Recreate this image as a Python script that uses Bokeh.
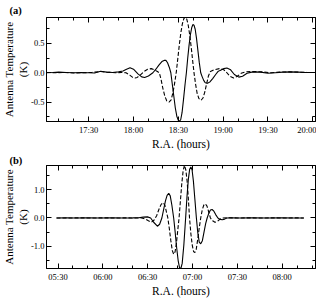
from bokeh.plotting import figure
from bokeh.models import (Range1d, FixedTicker, PrintfTickFormatter, LinearAxis, Title,
                          CustomJSTickFormatter)
from bokeh.layouts import column
from bokeh.embed import file_html
from bokeh.resources import INLINE

# ---------------- Panel (a): minutes after 17:00 ----------------
a_tick_labels = ["17:30", "18:00", "18:30", "19:00", "19:30", "20:00"]
a_x_range = ["17:01.8", "20:01.8"]
a_y_range = [-0.83, 0.94]
a_y_ticks = [-0.5, 0.0, 0.5]
a_y_minor = [-0.75, -0.5, -0.25, 0.0, 0.25, 0.5, 0.75]

a_solid_t = [1.8, 6, 10, 15, 20, 25, 30, 34, 38, 42, 46, 50, 53, 55, 57.7, 60, 63, 65.5,
             67.5, 70, 73, 75, 77, 79, 80.5, 81.7, 82.8, 84, 85, 86, 87, 88, 89, 90, 90.8,
             91.6, 92.5, 93.5, 94.5, 95.4, 96.3, 97.2, 98.1, 99, 99.8, 100.5, 101.3, 102.2,
             103.1, 104, 105, 106, 107, 108, 109.5, 111, 113, 115, 116.5, 118, 120.5, 122.5,
             125, 127.5, 130.5, 133, 136, 140, 145, 150, 155, 160, 165, 170, 175, 180, 181.8]
a_solid_v = [0.0, 0.005, 0.01, 0.005, 0.0, 0.005, 0.0, -0.005, 0.025, 0.01, 0.005, 0.015,
             0.03, 0.055, 0.085, 0.06, -0.02, -0.07, -0.08, -0.055, 0.0, 0.06, 0.13, 0.19,
             0.21, 0.21, 0.17, 0.09, 0.0, -0.2, -0.4, -0.6, -0.74, -0.81, -0.825, -0.8,
             -0.68, -0.45, -0.2, 0.0, 0.25, 0.47, 0.65, 0.77, 0.82, 0.81, 0.74, 0.58, 0.38,
             0.18, 0.0, -0.07, -0.13, -0.17, -0.18, -0.16, -0.1, -0.03, 0.02, 0.04, 0.07,
             0.08, 0.05, -0.03, -0.075, -0.06, -0.01, 0.015, 0.01, -0.01, 0.0, 0.01, 0.015,
             0.01, 0.005, 0.005, 0.005]

a_dash_t = [1.8, 8, 14, 20, 26, 32, 38, 42, 48, 52, 55, 57.5, 59.5, 61, 62.5, 64.5, 67, 69.5,
            71.9, 74, 76, 77.3, 78.5, 79.7, 81, 82.3, 83.8, 85.2, 86.4, 87.6, 88.7, 89.7,
            90.7, 91.7, 92.7, 93.7, 94.7, 95.7, 96.7, 97.7, 98.7, 99.7, 100.6, 101.6, 102.6,
            103.8, 105.2, 106.5, 107.7, 109, 110.2, 111.5, 114, 117.5, 120.5, 122.5, 124.5,
            127, 129.5, 132, 135, 140, 146, 152, 158, 164, 170, 176, 181.8]
a_dash_v = [0.005, 0.0, 0.005, -0.005, 0.0, 0.005, 0.02, 0.01, 0.0, 0.005, 0.0, -0.04, -0.08,
            -0.09, -0.08, -0.04, 0.02, 0.06, 0.07, 0.05, 0.02, 0.0, -0.12, -0.27, -0.4, -0.48,
            -0.5, -0.46, -0.34, -0.17, 0.02, 0.25, 0.48, 0.68, 0.83, 0.92, 0.95, 0.91, 0.8,
            0.63, 0.42, 0.18, -0.02, -0.2, -0.35, -0.44, -0.47, -0.43, -0.33, -0.18, -0.05,
            0.02, 0.05, 0.07, 0.05, 0.0, -0.06, -0.09, -0.06, -0.01, 0.015, 0.02, 0.015, 0.0,
            0.01, 0.015, 0.01, 0.005, 0.005]

# ---------------- Panel (b): minutes after 05:30 ----------------
b_tick_labels = ["05:30", "06:00", "06:30", "07:00", "07:30", "08:00"]
b_x_range = ["05:22.3", "08:22.3"]
b_y_range = [-1.78, 1.85]
b_y_ticks = [-1.0, 0.0, 1.0]
b_y_minor = [-1.5, -1.0, -0.5, 0.0, 0.5, 1.0, 1.5]

b_solid_t = [-1, 5, 12, 20, 28, 36, 44, 50, 54, 57, 59.9, 62, 64, 66.5, 68, 69.5, 70.7, 71.9,
             73, 74.1, 75.1, 76.2, 77.4, 78.4, 79.4, 80.4, 81.3, 82.2, 83.1, 84.2, 85.4, 86.3,
             87.2, 88.1, 88.9, 89.7, 90.6, 91.6, 92.6, 93.5, 94.5, 95.5, 96.6, 97.7, 98.8,
             99.8, 101, 102, 103.1, 104.3, 105.5, 107, 108.5, 110, 111.5, 113, 116, 122, 130,
             140, 150, 158, 164.5]
b_solid_v = [0.0, 0.005, 0.0, 0.005, 0.0, 0.005, 0.0, 0.005, 0.01, 0.03, 0.04, 0.0, -0.15,
             -0.29, -0.22, 0.0, 0.3, 0.6, 0.8, 0.87, 0.78, 0.45, 0.0, -0.5, -1.05, -1.5, -1.75,
             -1.78, -1.6, -0.95, 0.0, 0.75, 1.35, 1.72, 1.8, 1.7, 1.3, 0.65, 0.0, -0.5, -0.85,
             -0.91, -0.8, -0.5, -0.2, 0.0, 0.18, 0.28, 0.3, 0.24, 0.12, 0.0, -0.05, -0.06,
             -0.04, 0.0, 0.01, 0.0, 0.005, 0.0, 0.005, 0.0, 0.0]

b_dash_t = [-1, 6, 14, 22, 30, 38, 46, 52, 56, 58.5, 60.5, 62.5, 64.2, 66, 67.5, 69, 70.4,
            71.6, 72.6, 73.5, 74.5, 75.5, 76.5, 77.4, 78.3, 79.2, 80.1, 81, 81.9, 82.8, 83.7,
            84.6, 85.5, 86.4, 87.2, 88, 88.9, 89.8, 90.7, 91.6, 92.5, 93.5, 94.5, 95.5, 96.5,
            97.5, 98.6, 99.7, 100.8, 102, 103.5, 105, 106.5, 108, 110, 113, 120, 128, 136,
            144, 152, 158, 164.5]
b_dash_v = [0.0, 0.0, 0.005, 0.0, 0.005, 0.0, 0.005, 0.0, 0.0, -0.04, -0.1, -0.15, -0.08,
            0.08, 0.3, 0.48, 0.54, 0.44, 0.2, 0.0, -0.38, -0.8, -1.15, -1.28, -1.2, -0.9,
            -0.45, 0.0, 0.6, 1.2, 1.65, 1.86, 1.7, 1.3, 0.7, 0.0, -0.55, -0.95, -1.18, -1.22,
            -1.1, -0.75, -0.35, 0.0, 0.28, 0.45, 0.5, 0.42, 0.22, 0.0, -0.1, -0.15, -0.13,
            -0.06, 0.0, 0.01, 0.0, 0.005, 0.0, 0.005, 0.0, 0.005, 0.0]

FONT = "Liberation Serif"


def hm(s):
    h, m = s.split(":")
    return int(h) * 60 + float(m)


def panel(tag, base_min, t_solid, v_solid, t_dash, v_dash, tick_labels, x_rng, y_rng,
          y_ticks, y_minor, height, top_border, tag_standoff):
    x0, x1 = hm(x_rng[0]), hm(x_rng[1])
    p = figure(width=316, height=height, output_backend="svg", toolbar_location=None,
               x_range=Range1d(x0, x1), y_range=Range1d(y_rng[0], y_rng[1]),
               x_axis_type=None, y_axis_type=None,
               min_border_left=40, min_border_right=1, min_border_top=top_border,
               min_border_bottom=24)
    p.background_fill_color = "white"
    p.border_fill_color = "white"
    p.outline_line_color = "black"
    p.xgrid.visible = False
    p.ygrid.visible = False

    major = [hm(s) for s in tick_labels]
    minor = [m for m in range(int(major[0]) - 30, int(x1) + 1, 10) if x0 <= m <= x1]
    xt = FixedTicker(ticks=major, minor_ticks=minor)
    overrides = {int(m): s for m, s in zip(major, tick_labels)}
    yt = FixedTicker(ticks=y_ticks, minor_ticks=y_minor)

    def style(ax, show):
        ax.major_tick_in = 5
        ax.major_tick_out = 0
        ax.minor_tick_in = 3
        ax.minor_tick_out = 0
        ax.axis_line_color = "black"
        ax.major_tick_line_color = "black"
        ax.minor_tick_line_color = "black"
        ax.major_label_text_font = FONT
        ax.major_label_text_color = "black"
        if show:
            ax.major_label_text_font_size = "8.5px"
            ax.major_label_standoff = 2
        else:
            ax.formatter = CustomJSTickFormatter(code="return ''")
            ax.major_label_text_font_size = "0px"
            ax.major_label_standoff = 0

    xb = LinearAxis(ticker=xt, major_label_overrides=overrides)
    style(xb, True)
    xb.major_label_standoff = 3
    xb.axis_label = "R.A. (hours)"
    xb.axis_label_text_font = FONT
    xb.axis_label_text_font_size = "11.5px"
    xb.axis_label_text_font_style = "normal"
    xb.axis_label_text_color = "black"
    xb.axis_label_standoff = 0
    p.add_layout(xb, "below")

    xa = LinearAxis(ticker=xt)
    style(xa, False)
    p.add_layout(xa, "above")

    yl = LinearAxis(ticker=yt, formatter=PrintfTickFormatter(format="%.1f"))
    style(yl, True)
    p.add_layout(yl, "left")

    yr = LinearAxis(ticker=yt)
    style(yr, False)
    p.add_layout(yr, "right")

    p.line([base_min + t for t in t_solid], v_solid, line_color="black", line_width=1.1)
    p.line([base_min + t for t in t_dash], v_dash, line_color="black", line_width=1.1,
           line_dash="4 2")

    p.add_layout(Title(text="(K)", align="center", standoff=0, text_font=FONT,
                       text_font_size="11px", text_font_style="normal",
                       text_color="black"), "left")
    p.add_layout(Title(text="Antenna Temperature", align="center", standoff=0,
                       text_font=FONT, text_font_size="11px", text_font_style="normal",
                       text_color="black"), "left")
    p.add_layout(Title(text=tag, align="left", offset=-37, standoff=tag_standoff,
                       text_font=FONT, text_font_size="10.5px", text_font_style="bold",
                       text_color="black"), "above")
    return p


pa = panel("(a)", 17 * 60, a_solid_t, a_solid_v, a_dash_t, a_dash_v, a_tick_labels,
           a_x_range, a_y_range, a_y_ticks, a_y_minor, 152, 17, 3)
pb = panel("(b)", 5 * 60 + 30, b_solid_t, b_solid_v, b_dash_t, b_dash_v, b_tick_labels,
           b_x_range, b_y_range, b_y_ticks, b_y_minor, 147, 13, 0)

layout = column(pa, pb)
open("out.html", "w").write(file_html(layout, INLINE))
